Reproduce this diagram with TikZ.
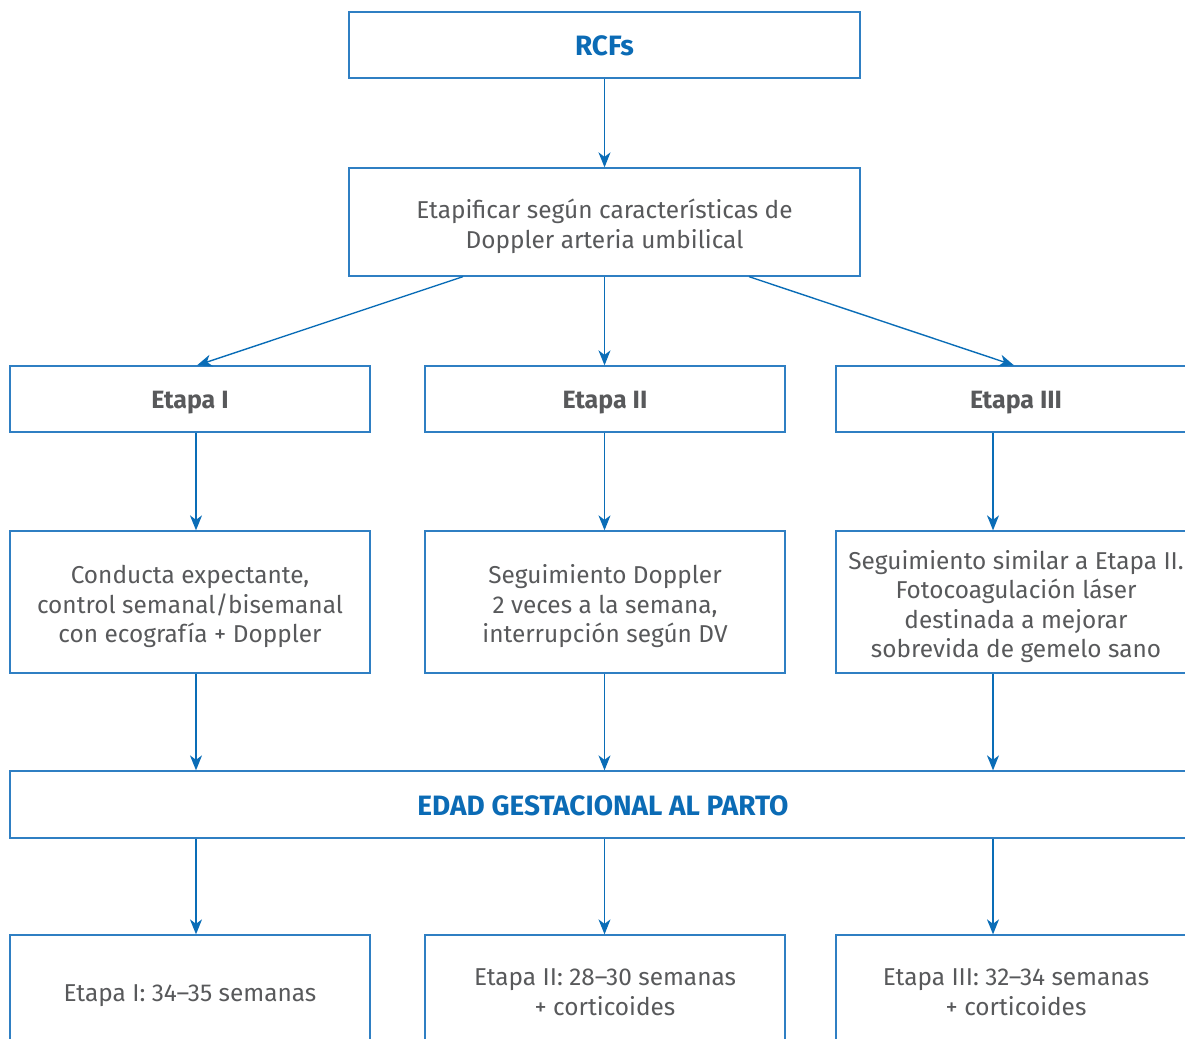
\documentclass[tikz,border=0pt]{standalone}
\usepackage{fontspec}
\setmainfont{Fira Sans}
\usetikzlibrary{arrows.meta}
\definecolor{boxblue}{HTML}{2F7FC3}
\definecolor{arrblue}{HTML}{0A6DB7}
\definecolor{txtgray}{HTML}{58595B}
\definecolor{headblue}{HTML}{0B6BB5}
\begin{document}
\begin{tikzpicture}[x=1pt,y=-1pt,
  box/.style={draw=boxblue, line width=1.3pt, rectangle, inner sep=0pt,
    align=center, text=txtgray, font=\fontsize{24.4}{29.5}\selectfont,
    execute at begin node={\rule{0pt}{1.05em}},
    execute at end node={\rule[-0.3em]{0pt}{0pt}}},
  txt/.style={inner sep=0pt, align=center, text=txtgray,
    font=\fontsize{24.4}{29.5}\selectfont, yshift=-4.5pt},
  headbox/.style={box, text=headblue, font=\fontsize{28}{30}\selectfont\bfseries},
  stagebox/.style={box, font=\fontsize{25}{30}\selectfont\bfseries},
  arr/.style={draw=arrblue, line width=1.4pt,
    -{Stealth[length=15pt,width=12pt,inset=4.5pt]}}]
\useasboundingbox (0,0) rectangle (1185,1038);
\clip (0,0) rectangle (1185,1038);

% top of the chart
\node[headbox, minimum width=511pt, minimum height=66pt] (rcf) at (604.5,45) {RCFs};
\node[box, minimum width=511pt, minimum height=108pt] (mid) at (604.5,222) {};
\node[txt] (mid-t) at (mid.center)
  {Etapificar según características de\\Doppler arteria umbilical};

% stage boxes
\node[stagebox, minimum width=360pt, minimum height=66pt] (s1) at (190,399) {Etapa I};
\node[stagebox, minimum width=360pt, minimum height=66pt] (s2) at (605,399) {Etapa II};
\node[stagebox, minimum width=360pt, minimum height=66pt] (s3) at (1016,399) {Etapa III};

% management per stage
\node[box, minimum width=360pt, minimum height=142pt] (m1) at (190,602) {};
\node[txt] (m1-t) at (m1.center)
  {Conducta expectante,\\control semanal/bisemanal\\con ecografía + Doppler};
\node[box, minimum width=360pt, minimum height=142pt] (m2) at (605,602) {};
\node[txt] (m2-t) at (m2.center)
  {Seguimiento Doppler\\2 veces a la semana,\\interrupción según DV};
\node[box, minimum width=360pt, minimum height=142pt] (m3) at (1016,602) {};
\node[txt] (m3-t) at (m3.center)
  {Seguimiento similar a Etapa II.\\Fotocoagulación láser\\destinada a mejorar\\sobrevida de gemelo sano};

% gestational age at delivery
\node[headbox, minimum width=1186pt, minimum height=67pt] (edad) at (603,804.5)
  {EDAD GESTACIONAL AL PARTO};

% outcomes
\node[box, minimum width=360pt, minimum height=114pt] (o1) at (190,992)
  {Etapa I: 34–35 semanas};
\node[box, minimum width=360pt, minimum height=114pt] (o2) at (605,992) {};
\node[txt, yshift=4.5pt] (o2-t) at (o2.center) {Etapa II: 28–30 semanas\\+ corticoides};
\node[box, minimum width=360pt, minimum height=114pt] (o3) at (1016,992) {};
\node[txt, yshift=4.5pt] (o3-t) at (o3.center) {Etapa III: 32–34 semanas\\+ corticoides};

% connector columns
\coordinate (c1) at (196,0);
\coordinate (c2) at (604.5,0);
\coordinate (c3) at (993,0);
\coordinate (dl) at (463,0);
\coordinate (dr) at (749,0);
\coordinate (tl) at (197,0);
\coordinate (tr) at (1014,0);

\draw[arr] (rcf.south -| c2) -- (mid.north -| c2);
\draw[arr] (mid.south -| dl) -- (s1.north -| tl);
\draw[arr] (mid.south -| c2) -- (s2.north -| c2);
\draw[arr] (mid.south -| dr) -- (s3.north -| tr);

\draw[arr] (s1.south -| c1) -- (m1.north -| c1);
\draw[arr] (s2.south -| c2) -- (m2.north -| c2);
\draw[arr] (s3.south -| c3) -- (m3.north -| c3);

\draw[arr] (m1.south -| c1) -- (edad.north -| c1);
\draw[arr] (m2.south -| c2) -- (edad.north -| c2);
\draw[arr] (m3.south -| c3) -- (edad.north -| c3);

\draw[arr] (edad.south -| c1) -- (o1.north -| c1);
\draw[arr] (edad.south -| c2) -- (o2.north -| c2);
\draw[arr] (edad.south -| c3) -- (o3.north -| c3);
\end{tikzpicture}
\end{document}
